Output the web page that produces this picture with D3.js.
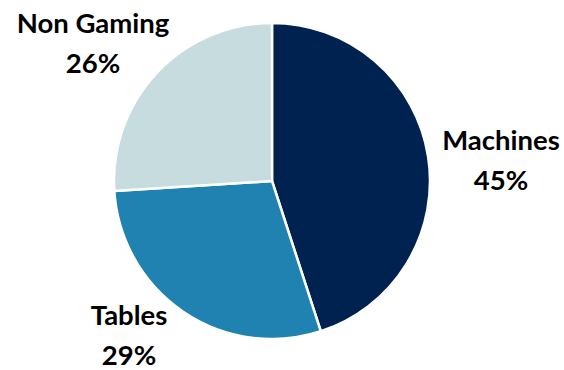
<!DOCTYPE html>
<html>
<head>
<meta charset="utf-8">
<script src="https://cdn.jsdelivr.net/npm/d3@7"></script>
<style>
  html, body { margin: 0; padding: 0; background: #fff; }
  svg { display: block; }
  text { font-family: Lato, "Open Sans", sans-serif; font-weight: bold; fill: #000; }
</style>
</head>
<body>
<svg id="chart" width="564" height="370"></svg>
<script>
// Revenue mix by segment
const categories = ["Machines", "Tables", "Non Gaming"];
const shares = [45, 29, 26];
const colors = ["#002251", "#1f82b0", "#c6dcdf"];
// Label anchor points (centre x, baseline of the first line)
const labelPos = [[501, 150], [129, 325], [93, 33]];

const width = 564, height = 370;
const cx = 272, cy = 181, r = 158;
const fontSize = 27.5, lineGap = 40;

const svg = d3.select("#chart");
const g = svg.append("g").attr("transform", `translate(${cx},${cy})`);

const pie = d3.pie().sort(null).value(d => d)(shares);
const arc = d3.arc().innerRadius(0).outerRadius(r);
const color = d3.scaleOrdinal().domain(categories).range(colors);

g.selectAll("path")
  .data(pie)
  .join("path")
  .attr("d", arc)
  .attr("fill", (d, i) => color(categories[i]))
  .attr("stroke", "#fff")
  .attr("stroke-width", 2.5)
  .attr("stroke-linejoin", "round");

const labels = svg.selectAll("g.label")
  .data(pie)
  .join("g")
  .attr("class", "label")
  .attr("transform", (d, i) => `translate(${labelPos[i][0]},${labelPos[i][1]})`);

labels.append("text")
  .attr("text-anchor", "middle")
  .attr("font-size", fontSize)
  .text((d, i) => categories[i]);

labels.append("text")
  .attr("text-anchor", "middle")
  .attr("y", lineGap)
  .attr("font-size", fontSize)
  .text(d => d.data + "%");
</script>
</body>
</html>
